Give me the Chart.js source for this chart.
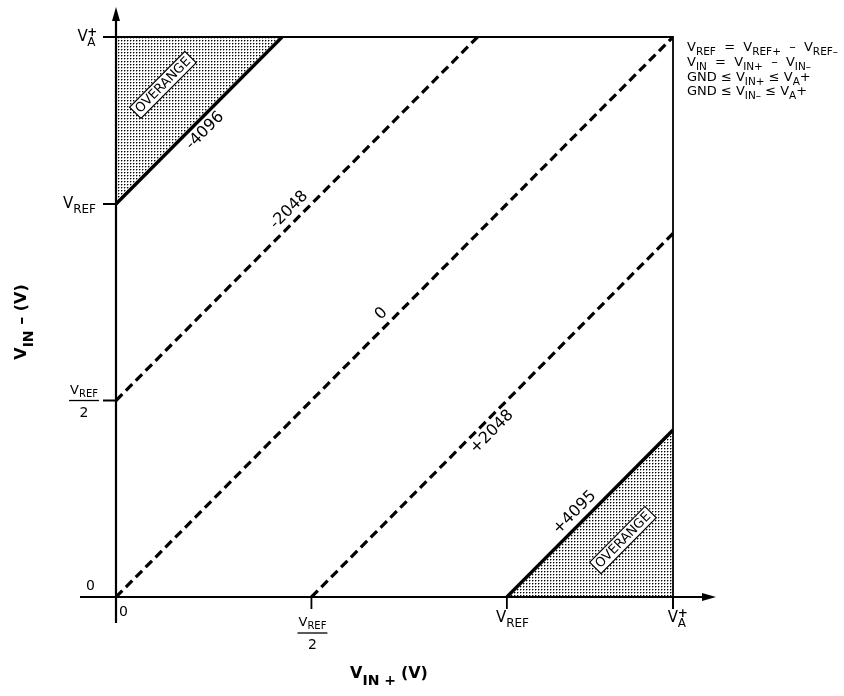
<!DOCTYPE html>
<html>
<head>
<meta charset="utf-8">
<script src="https://cdn.jsdelivr.net/npm/chart.js@4.4.1/dist/chart.umd.min.js"></script>
<style>
html,body{margin:0;padding:0;background:#fff;}
#wrap{width:844px;height:696px;}
</style>
</head>
<body>
<div id="wrap"><canvas id="c" width="844" height="696"></canvas></div>
<script>
// ---- data (VREF = 1, VA+ = 1.425 in relative units) ----
const codeLabels = ['-4096', '-2048', '0', '+2048', '+4095'];
const lineXs = [[0, 0.425], [0, 0.925], [0, 1.425], [0.5, 1.425], [1, 1.425]];
const lineYs = [[1, 1.425], [0.5, 1.425], [0, 1.425], [0, 0.925], [0, 0.425]];
const lineDashed = [false, true, true, true, false];
const lineFill = ['end', false, false, false, 'start'];
const labelAtX = [0.207, 0.464, 0.70, 0.941, 1.194];
const labelSide = [1, -1, -1, 1, -1];   // 1 = below-right, -1 = above-left
const overrangeX = [0.12, 1.297];
const overrangeY = [1.303, 0.145];
const axisMax = 1.425;
const xTickValues = [0, 0.5, 1, 1.425];
const yTickValues = [0, 0.5, 1, 1.425];
const xTickLabels = ['0', 'VREF/2', 'VREF', 'VA+'];
const yTickLabels = ['0', 'VREF/2', 'VREF', 'VA+'];

const FONT = '"DejaVu Sans", "Liberation Sans", sans-serif';

// dotted pattern
function makePattern() {
  const p = document.createElement('canvas');
  p.width = 3; p.height = 3;
  const g = p.getContext('2d');
  g.fillStyle = '#fff'; g.fillRect(0, 0, 3, 3);
  g.fillStyle = '#000'; g.fillRect(1, 1, 1, 1);
  g.fillStyle = 'rgba(0,0,0,0.4)'; g.fillRect(2, 1, 1, 1); g.fillRect(1, 2, 1, 1);
  return document.getElementById('c').getContext('2d').createPattern(p, 'repeat');
}
const pattern = makePattern();

const datasets = codeLabels.map((lab, i) => ({
  label: lab,
  data: lineXs[i].map((x, k) => ({ x: x, y: lineYs[i][k] })),
  showLine: true,
  borderColor: '#000',
  borderWidth: lineDashed[i] ? 3.2 : 3.4,
  borderDash: lineDashed[i] ? [9, 5] : [],
  borderCapStyle: 'butt',
  pointRadius: 0,
  fill: lineFill[i],
  backgroundColor: lineFill[i] ? pattern : 'transparent',
  tension: 0
}));

// text helpers: parts = [[text, mode]] mode: 0 normal, 1 sub
function partsWidth(ctx, parts, size, subSize, bold) {
  let w = 0;
  for (const [t, m] of parts) {
    ctx.font = (bold ? 'bold ' : '') + (m ? subSize : size) + 'px ' + FONT;
    w += ctx.measureText(t).width;
  }
  return w;
}
function drawParts(ctx, parts, x, y, size, subSize, align, bold, subOff) {
  const w = partsWidth(ctx, parts, size, subSize, bold);
  let cx = align === 'center' ? x - w / 2 : align === 'right' ? x - w : x;
  ctx.textAlign = 'left';
  ctx.textBaseline = 'alphabetic';
  for (const [t, m] of parts) {
    ctx.font = (bold ? 'bold ' : '') + (m ? subSize : size) + 'px ' + FONT;
    const dy = m === 1 ? (subOff || 4) : 0;
    ctx.fillText(t, cx, y + dy);
    cx += ctx.measureText(t).width;
  }
  return w;
}
// V with stacked sup "+" and sub "A"
function drawVA(ctx, x, y, align) {
  ctx.font = '15px ' + FONT;
  const vw = ctx.measureText('V').width;
  ctx.font = '12px ' + FONT;
  const sw = ctx.measureText('A').width;
  const w = vw + sw;
  let cx = align === 'center' ? x - vw / 2 : align === 'right' ? x - w : x;
  ctx.textAlign = 'left'; ctx.textBaseline = 'alphabetic';
  ctx.font = '15px ' + FONT;
  ctx.fillText('V', cx, y);
  ctx.font = 'bold 12px ' + FONT;
  ctx.fillText('+', cx + vw - 0.5, y - 5);
  ctx.font = '12px ' + FONT;
  ctx.fillText('A', cx + vw - 0.5, y + 5);
}
function drawVREF(ctx, x, y, align) {
  return drawParts(ctx, [['V', 0], ['REF', 1]], x, y, 15, 12, align, false, 5);
}
function drawFrac(ctx, cx, barY) {
  const w = partsWidth(ctx, [['V', 0], ['REF', 1]], 13, 10, false);
  drawParts(ctx, [['V', 0], ['REF', 1]], cx, barY - 7, 13, 10, 'center', false, 3);
  ctx.lineWidth = 1.3;
  ctx.beginPath(); ctx.moveTo(cx - w / 2 - 1, barY); ctx.lineTo(cx + w / 2 + 1, barY); ctx.stroke();
  ctx.font = '14px ' + FONT; ctx.textAlign = 'center';
  ctx.fillText('2', cx, barY + 16);
}

const decor = {
  id: 'decor',
  afterDatasetsDraw(chart) {
    const ctx = chart.ctx;
    const xs = chart.scales.x, ys = chart.scales.y;
    const X = v => xs.getPixelForValue(v), Y = v => ys.getPixelForValue(v);
    const x0 = X(0), y0 = Y(0), xM = X(axisMax), yM = Y(axisMax);
    ctx.save();
    ctx.strokeStyle = '#000'; ctx.fillStyle = '#000';
    // box top & right
    ctx.lineWidth = 1.8;
    ctx.beginPath();
    ctx.moveTo(x0 - 13, yM); ctx.lineTo(xM, yM); ctx.lineTo(xM, y0 + 12);
    ctx.stroke();
    // axes
    ctx.lineWidth = 2.2;
    ctx.beginPath();
    ctx.moveTo(x0, y0 + 26); ctx.lineTo(x0, 16);
    ctx.moveTo(80, y0); ctx.lineTo(706, y0);
    ctx.stroke();
    // arrowheads
    ctx.beginPath();
    ctx.moveTo(x0, 7); ctx.lineTo(x0 - 4, 21); ctx.lineTo(x0 + 4, 21); ctx.closePath(); ctx.fill();
    ctx.beginPath();
    ctx.moveTo(716, y0); ctx.lineTo(702, y0 - 4); ctx.lineTo(702, y0 + 4); ctx.closePath(); ctx.fill();
    // ticks
    ctx.lineWidth = 1.8;
    ctx.beginPath();
    yTickValues.forEach(v => { if (v > 0) { ctx.moveTo(x0 - 13, Y(v)); ctx.lineTo(x0, Y(v)); } });
    xTickValues.forEach(v => { if (v > 0) { ctx.moveTo(X(v), y0); ctx.lineTo(X(v), y0 + 12); } });
    ctx.stroke();
    // y tick labels
    yTickLabels.forEach((lab, i) => {
      const py = Y(yTickValues[i]);
      if (lab === '0') { ctx.font = '14px ' + FONT; ctx.textAlign = 'right'; ctx.fillText('0', 95, py - 7); }
      else if (lab === 'VREF') drawVREF(ctx, 96, py + 4, 'right');
      else if (lab === 'VREF/2') drawFrac(ctx, 84, py);
      else if (lab === 'VA+') drawVA(ctx, 96, py + 4, 'right');
    });
    // x tick labels
    xTickLabels.forEach((lab, i) => {
      const px = X(xTickValues[i]);
      if (lab === '0') { ctx.font = '14px ' + FONT; ctx.textAlign = 'left'; ctx.fillText('0', px + 3, y0 + 19); }
      else if (lab === 'VREF') drawVREF(ctx, px - 11, y0 + 25, 'left');
      else if (lab === 'VREF/2') drawFrac(ctx, px + 1, y0 + 36);
      else if (lab === 'VA+') drawVA(ctx, px, y0 + 25, 'center');
    });
    // line labels
    codeLabels.forEach((lab, i) => {
      const a = lineXs[i], b = lineYs[i];
      const xv = labelAtX[i];
      const yv = b[0] + (xv - a[0]) * (b[1] - b[0]) / (a[1] - a[0]);
      const px = X(xv), py = Y(yv);
      const ang = Math.atan2(Y(b[1]) - Y(b[0]), X(a[1]) - X(a[0]));
      const nx = -Math.sin(ang), ny = Math.cos(ang);
      const off = 11.5 * labelSide[i];
      ctx.save();
      ctx.translate(px + nx * off, py + ny * off);
      ctx.rotate(ang);
      ctx.font = '16px ' + FONT; ctx.textAlign = 'center'; ctx.textBaseline = 'middle';
      ctx.fillText(lab, 0, 0);
      ctx.restore();
    });
    // OVERANGE boxes
    overrangeX.forEach((xv, i) => {
      ctx.save();
      ctx.translate(X(xv), Y(overrangeY[i]));
      ctx.rotate(-Math.PI / 4 - 0.005);
      ctx.font = '13px ' + FONT;
      const w = ctx.measureText('OVERANGE').width;
      ctx.fillStyle = '#fff';
      ctx.fillRect(-w / 2 - 3, -8, w + 6, 16);
      ctx.lineWidth = 1.2;
      ctx.strokeRect(-w / 2 - 3, -8, w + 6, 16);
      ctx.fillStyle = '#000';
      ctx.textAlign = 'center'; ctx.textBaseline = 'middle';
      ctx.fillText('OVERANGE', 0, 0.5);
      ctx.restore();
    });
    // axis titles
    drawParts(ctx, [['V', 0], ['IN + ', 1], ['(V)', 0]], 389, 678, 16, 14, 'center', true, 7);
    ctx.save();
    ctx.translate(26, 322);
    ctx.rotate(-Math.PI / 2);
    drawParts(ctx, [['V', 0], ['IN', 1], [' – (V)', 0]], 0, 0, 16, 14, 'center', true, 7);
    ctx.restore();
    // legend / notes
    const lx = 687;
    drawParts(ctx, [['V', 0], ['REF', 1], ['  =  V', 0], ['REF+', 1], ['  –  V', 0], ['REF–', 1]], lx, 51, 13, 10.5, 'left', false, 4);
    drawParts(ctx, [['V', 0], ['IN', 1], ['  =  V', 0], ['IN+', 1], ['  –  V', 0], ['IN–', 1]], lx, 66, 13, 10.5, 'left', false, 4);
    drawParts(ctx, [['GND ≤ V', 0], ['IN+', 1], [' ≤ V', 0], ['A', 1], ['+', 0]], lx, 81, 13, 10.5, 'left', false, 4);
    drawParts(ctx, [['GND ≤ V', 0], ['IN–', 1], [' ≤ V', 0], ['A', 1], ['+', 0]], lx, 95, 13, 10.5, 'left', false, 4);
    ctx.restore();
  }
};

new Chart(document.getElementById('c'), {
  type: 'scatter',
  data: { datasets: datasets },
  options: {
    responsive: false,
    animation: false,
    devicePixelRatio: 1,
    layout: { padding: { left: 116, right: 171, top: 37, bottom: 99 } },
    scales: {
      x: { type: 'linear', min: 0, max: axisMax, display: false },
      y: { type: 'linear', min: 0, max: axisMax, display: false }
    },
    plugins: { legend: { display: false }, tooltip: { enabled: false } },
    elements: { line: { tension: 0 } }
  },
  plugins: [decor]
});
</script>
</body>
</html>
